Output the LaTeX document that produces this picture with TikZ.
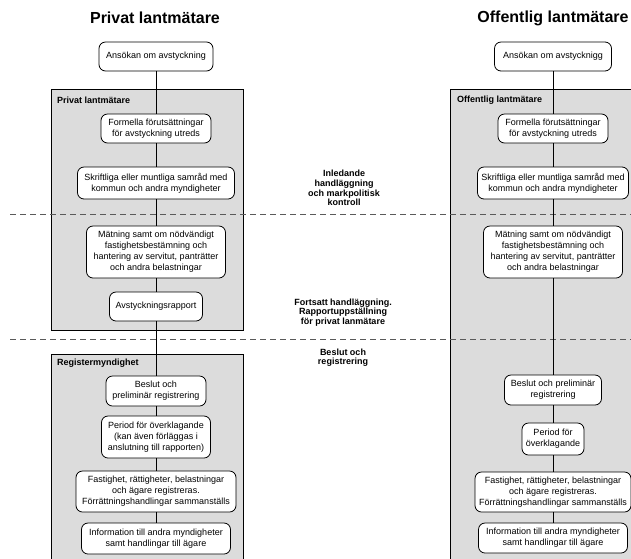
\documentclass[tikz,border=0pt]{standalone}
\usepackage{fontspec}
\setmainfont{Liberation Sans}
\definecolor{lanegrey}{HTML}{DCDCDC}
\definecolor{sepgrey}{HTML}{5A5A5A}
\begin{document}
\begin{tikzpicture}[x=1pt,y=-1pt,
  proc/.style={draw=black, fill=white, rounded corners=6.5pt, align=center,
    font=\fontsize{9}{11}\selectfont, inner sep=0pt, line width=0.8pt},
  lane/.style={draw=black, fill=lanegrey, line width=0.8pt},
  lanelabel/.style={anchor=west, inner sep=0pt, font=\bfseries\fontsize{9}{11}\selectfont},
  phase/.style={align=center, inner sep=0pt, font=\bfseries\fontsize{9}{9.6}\selectfont},
  septline/.style={draw=sepgrey, dash pattern=on 6pt off 4pt, line width=1pt},
  conn/.style={draw=black, line width=0.8pt},
  title/.style={inner sep=0pt, font=\bfseries\fontsize{16}{19}\selectfont}]
\useasboundingbox (0,0) rectangle (631,558);
\clip (0,0) rectangle (631,558);

% lanes
\draw[lane] (51,89) rectangle (243,330);
\draw[lane] (51,354) rectangle (243,575);
\draw[lane] (450,89) rectangle (645,575);
\node[lanelabel] (lab1) at (57,100) {Privat lantmätare};
\node[lanelabel] (lab2) at (57,363) {Registermyndighet};
\node[lanelabel] (lab3) at (457,100) {Offentlig lantmätare};

% titles
\node[title] (t1) at (155,18) {Privat lantmätare};
\node[title] (t2) at (553,18) {Offentlig lantmätare};

% separators
\coordinate (d1s) at (10,214);
\coordinate (d1e) at (640,214);
\coordinate (d2s) at (10,339);
\coordinate (d2e) at (640,339);
\draw[septline] (d1s) -- (d1e);
\draw[septline] (d2s) -- (d2e);

% phase texts
\node[phase] (ph1) at (344,188) {Inledande\\handläggning\\och markpolitisk\\kontroll};
\node[phase] (ph2) at (343,312.5) {Fortsatt handläggning.\\Rapportuppställning\\för privat lanmätare};
\node[phase] (ph3) at (343,357.5) {Beslut och\\registrering};

% left column
\node[proc, minimum width=114pt, minimum height=29pt] (A1) at (156,56.5) {Ansökan om avstyckning};
\node[proc, minimum width=110pt, minimum height=29pt] (F1) at (156,128.5) {Formella förutsättningar\\för avstyckning utreds};
\node[proc, minimum width=157pt, minimum height=32pt] (S1) at (156,183) {Skriftliga eller muntliga samråd med\\kommun och andra myndigheter};
\node[proc, minimum width=139pt, minimum height=52pt] (M1) at (156,252) {Mätning samt om nödvändigt\\fastighetsbestämning och\\hantering av servitut, panträtter\\och andra belastningar};
\node[proc, minimum width=93pt, minimum height=29pt] (R1) at (156,306.5) {Avstyckningsrapport};
\node[proc, minimum width=100pt, minimum height=30pt] (B1) at (156,391) {Beslut och\\preliminär registrering};
\node[proc, minimum width=109pt, minimum height=42pt] (P1) at (156,437) {Period för överklagande\\(kan även förläggas i\\anslutning till rapporten)};
\node[proc, minimum width=160pt, minimum height=41pt] (G1) at (156,491.5) {Fastighet, rättigheter, belastningar\\och ägare registreras.\\Förrättningshandlingar sammanställs};
\node[proc, minimum width=149pt, minimum height=31pt] (I1) at (156,538.5) {Information till andra myndigheter\\samt handlingar till ägare};

% right column
\node[proc, minimum width=117pt, minimum height=29pt] (A2) at (553,56.5) {Ansökan om avstycknigg};
\node[proc, minimum width=110pt, minimum height=29pt] (F2) at (553,128.5) {Formella förutsättningar\\för avstyckning utreds};
\node[proc, minimum width=151pt, minimum height=32pt] (S2) at (553,183) {Skriftliga eller muntliga samråd med\\kommun och andra myndigheter};
\node[proc, minimum width=139pt, minimum height=52pt] (M2) at (553,252) {Mätning samt om nödvändigt\\fastighetsbestämning och\\hantering av servitut, panträtter\\och andra belastningar};
\node[proc, minimum width=97pt, minimum height=30pt] (B2) at (553,390) {Beslut och preliminär\\registrering};
\node[proc, minimum width=62pt, minimum height=32pt] (P2) at (553,439) {Period för\\överklagande};
\node[proc, minimum width=156pt, minimum height=40pt] (G2) at (553,492) {Fastighet, rättigheter, belastningar\\och ägare registreras.\\Förrättningshandlingar sammanställs};
\node[proc, minimum width=149pt, minimum height=30pt] (I2) at (553,538) {Information till andra myndigheter\\samt handlingar till ägare};

% connectors
\draw[conn] (A1) -- (F1);
\draw[conn] (F1) -- (S1);
\draw[conn] (S1) -- (M1);
\draw[conn] (M1) -- (R1);
\draw[conn] (R1) -- (B1);
\draw[conn] (B1) -- (P1);
\draw[conn] (P1) -- (G1);
\draw[conn] (G1) -- (I1);
\draw[conn] (A2) -- (F2);
\draw[conn] (F2) -- (S2);
\draw[conn] (S2) -- (M2);
\draw[conn] (M2) -- (B2);
\draw[conn] (B2) -- (P2);
\draw[conn] (P2) -- (G2);
\draw[conn] (G2) -- (I2);
\end{tikzpicture}
\end{document}
